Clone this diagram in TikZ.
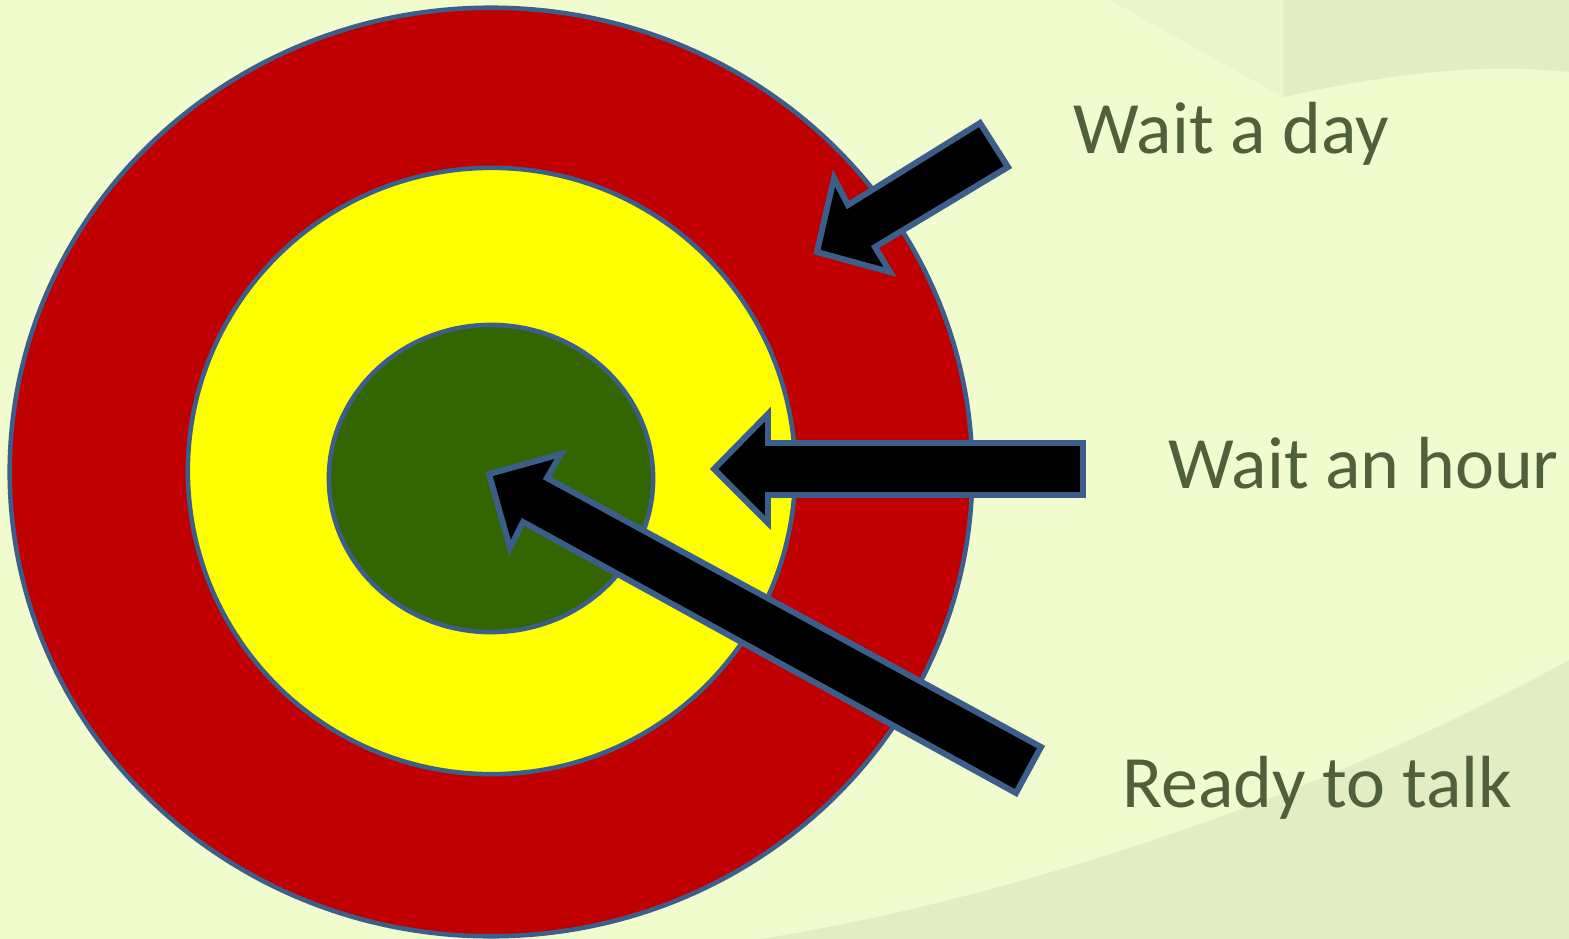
\documentclass[tikz,border=0pt]{standalone}
\usepackage{fontspec}
\setmainfont{Carlito}
\definecolor{bggreen}{RGB}{240, 251, 206}
\definecolor{swoosh}{RGB}{226, 237, 193}
\definecolor{ringred}{RGB}{192, 0, 0}
\definecolor{ringyellow}{RGB}{255, 255, 0}
\definecolor{ringgreen}{RGB}{51, 102, 0}
\definecolor{edgeblue}{RGB}{59, 94, 138}
\definecolor{labelolive}{RGB}{79, 96, 58}
\tikzset{
  ring/.style={draw=edgeblue, line width=1.3pt},
  blockarrow/.style={draw=edgeblue, fill=black, line width=1.7pt, line join=miter},
  waitlabel/.style={anchor=base west, inner sep=0pt, text=labelolive, font=\fontsize{21}{25}\selectfont},
}

\begin{document}
\begin{tikzpicture}[x=0.01cm, y=-0.01cm]
  % background
  \fill[bggreen] (0,0) rectangle (1569,939);
  \useasboundingbox (0,0) rectangle (1569,939);
  \fill[swoosh] (1283,0) -- (1283,97) .. controls (1380,76) and (1470,62) .. (1569,72) -- (1569,0) -- cycle;
  \fill[swoosh!40!bggreen] (1110,0) -- (1283,0) -- (1283,97) -- cycle;
  \fill[swoosh] (760,939) .. controls (950,910) and (1280,820) .. (1569,660) -- (1569,939) -- cycle;

  % target
  \draw[ring, fill=ringred] (491,472) ellipse [x radius=4.81cm, y radius=4.64cm];
  \draw[ring, fill=ringyellow] (491.5,471) ellipse [x radius=3.035cm, y radius=3.03cm];
  \draw[ring, fill=ringgreen] (491,478.5) ellipse [x radius=1.62cm, y radius=1.535cm];

  % arrows
  \draw[blockarrow] (980,123) -- (1008,167) -- (875,247) -- (890,272) -- (817,252)
    -- (834,178) -- (848,205) -- cycle;
  \draw[blockarrow] (714,469) -- (768,414) -- (768,443) -- (1083,443) -- (1083,495)
    -- (768,495) -- (768,523) -- cycle;
  \draw[blockarrow] (489,474) -- (561,454) -- (547,478) -- (1041,747) -- (1016,793)
    -- (523,522) -- (510,548) -- cycle;

  % labels
  \node[waitlabel] (day) at (1073,153) {Wait a day};
  \node[waitlabel] (hour) at (1168,488) {Wait an hour};
  \node[waitlabel] (talk) at (1122,807) {Ready to talk};
\end{tikzpicture}
\end{document}
